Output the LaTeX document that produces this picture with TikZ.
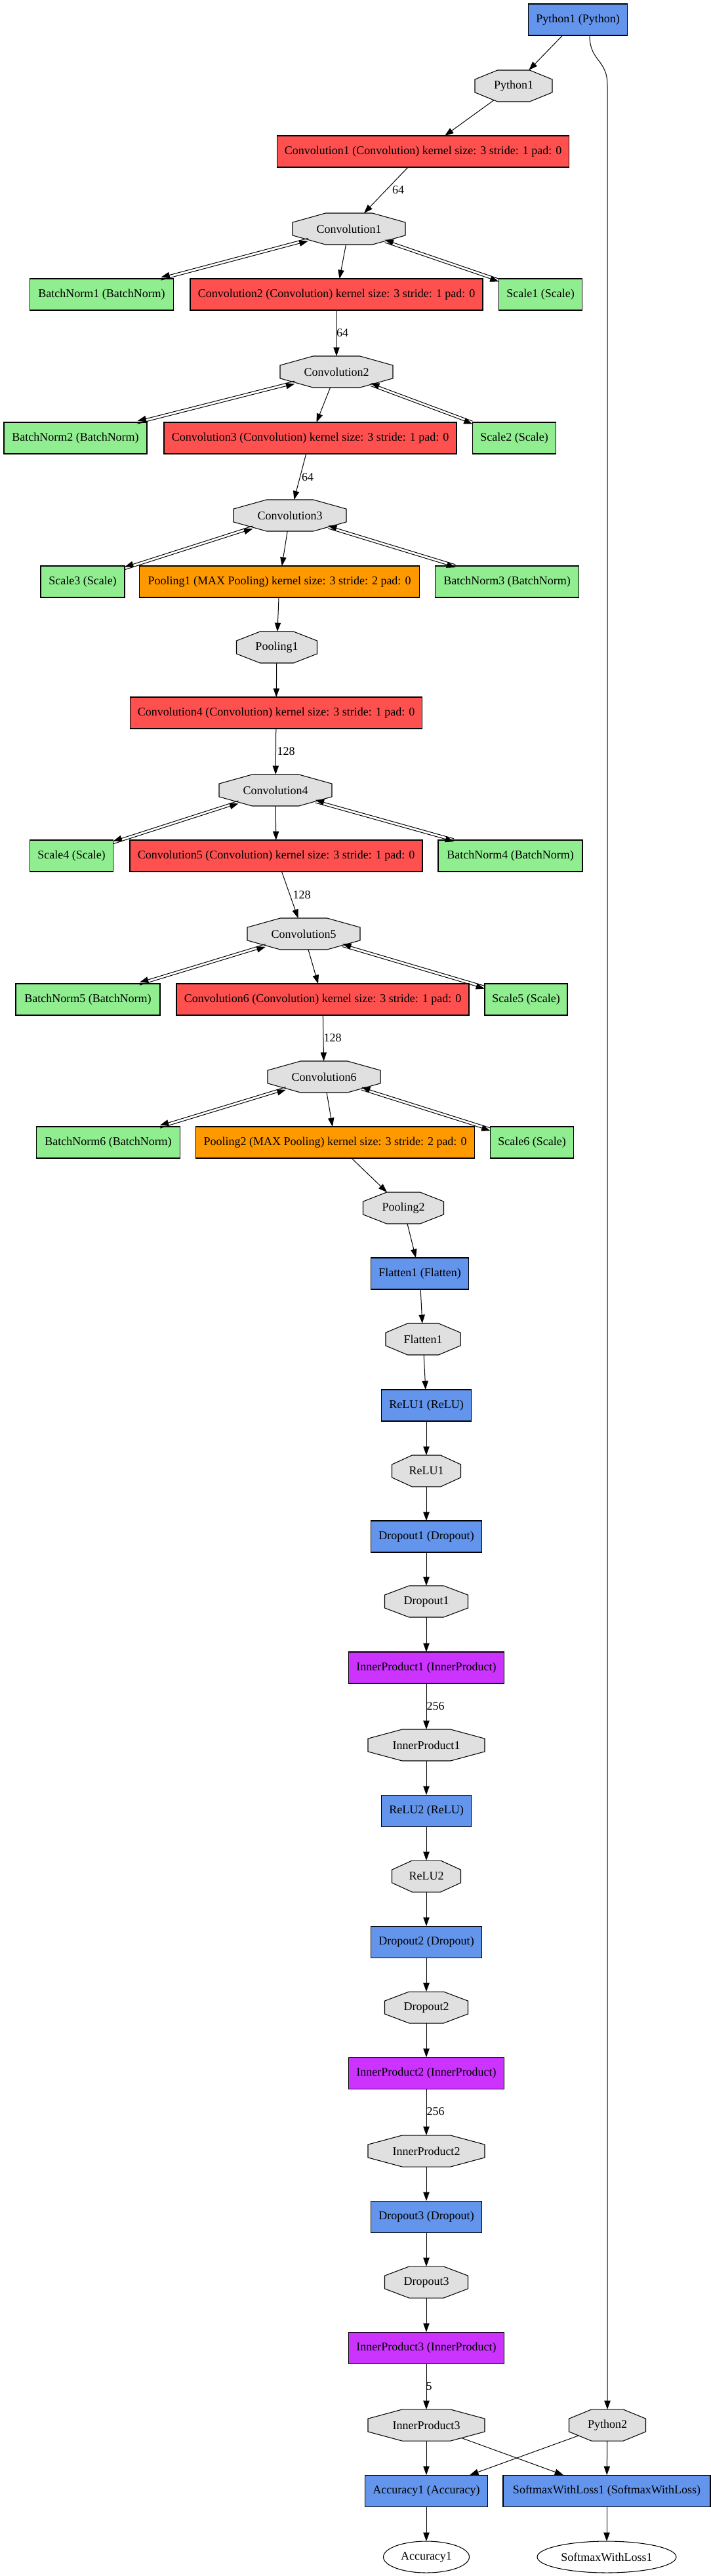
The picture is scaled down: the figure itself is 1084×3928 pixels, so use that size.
\documentclass[tikz,border=0pt]{standalone}
\usepackage{fontspec}
\setmainfont{Liberation Serif}
\usetikzlibrary{arrows.meta,shapes.geometric}
\definecolor{cblue}{HTML}{6495ED}
\definecolor{cred}{HTML}{FF5050}
\definecolor{corange}{HTML}{FF9900}
\definecolor{cpurple}{HTML}{CC33FF}
\definecolor{cgreen}{HTML}{90EE90}
\definecolor{cgrey}{HTML}{E0E0E0}
\newcommand\gvf{\fontsize{13.5pt}{16pt}\selectfont}
\makeatletter
\pgfdeclareshape{gvoctagon}{%
  \inheritsavedanchors[from=rectangle]%
  \inheritanchor[from=rectangle]{center}%
  \inheritanchor[from=rectangle]{north}%
  \inheritanchor[from=rectangle]{south}%
  \inheritanchor[from=rectangle]{east}%
  \inheritanchor[from=rectangle]{west}%
  \inheritanchor[from=rectangle]{text}%
  \inheritanchor[from=rectangle]{base}%
  \inheritanchor[from=rectangle]{mid}%
  \backgroundpath{%
    \southwest \edef\gvswx{\the\pgf@x}\edef\gvswy{\the\pgf@y}%
    \northeast \edef\gvnex{\the\pgf@x}\edef\gvney{\the\pgf@y}%
    \pgfmathsetmacro\gvix{0.2929*(\gvnex-\gvswx)}%
    \pgfmathsetmacro\gviy{0.2929*(\gvney-\gvswy)}%
    \pgfpathmoveto{\pgfpoint{\gvswx+\gvix}{\gvney}}%
    \pgfpathlineto{\pgfpoint{\gvnex-\gvix}{\gvney}}%
    \pgfpathlineto{\pgfpoint{\gvnex}{\gvney-\gviy}}%
    \pgfpathlineto{\pgfpoint{\gvnex}{\gvswy+\gviy}}%
    \pgfpathlineto{\pgfpoint{\gvnex-\gvix}{\gvswy}}%
    \pgfpathlineto{\pgfpoint{\gvswx+\gvix}{\gvswy}}%
    \pgfpathlineto{\pgfpoint{\gvswx}{\gvswy+\gviy}}%
    \pgfpathlineto{\pgfpoint{\gvswx}{\gvney-\gviy}}%
    \pgfpathclose
  }%
  \anchorborder{%
    \edef\gvdx{\the\pgf@x}\edef\gvdy{\the\pgf@y}%
    \southwest \edef\gvswx{\the\pgf@x}\edef\gvswy{\the\pgf@y}%
    \northeast \edef\gvnex{\the\pgf@x}\edef\gvney{\the\pgf@y}%
    \pgfmathsetmacro\gva{(\gvnex-\gvswx)/2}%
    \pgfmathsetmacro\gvb{(\gvney-\gvswy)/2}%
    \pgfmathsetmacro\gvcx{(\gvnex+\gvswx)/2}%
    \pgfmathsetmacro\gvcy{(\gvney+\gvswy)/2}%
    \pgfmathsetmacro\gvix{0.5858*\gva}%
    \pgfmathsetmacro\gviy{0.5858*\gvb}%
    \pgfmathsetmacro\gvs{max(abs(\gvdx),abs(\gvdy),0.001)}%
    \pgfmathsetmacro\gvnx{(\gvdx)/\gvs}%
    \pgfmathsetmacro\gvny{(\gvdy)/\gvs}%
    \pgfmathsetmacro\gvL{veclen(\gvnx,\gvny)}%
    \pgfmathsetmacro\gvux{abs(\gvnx)/\gvL}%
    \pgfmathsetmacro\gvuy{abs(\gvny)/\gvL}%
    \pgfmathsetmacro\gvta{min(\gvb/max(\gvuy,0.01),\gva/max(\gvux,0.01))}%
    \pgfmathsetmacro\gvtb{(\gviy*(\gva-\gvix)+\gvix*\gvb)/(\gviy*\gvux+\gvix*\gvuy)}%
    \pgfmathsetmacro\gvt{min(\gvta,\gvtb)}%
    \pgfmathsetlength\pgf@x{\gvcx+\gvt*(\gvnx)/\gvL}%
    \pgfmathsetlength\pgf@y{\gvcy+\gvt*(\gvny)/\gvL}%
  }%
}
\makeatother
\tikzset{
  wd/.style={minimum width=#1*0.75pt},
  layer/.style={rectangle, draw=black, line width=0.8pt, minimum height=36pt, inner sep=0pt, outer sep=0pt, font=\gvf},
  blob/.style={gvoctagon, draw=black, fill=cgrey, line width=0.8pt, minimum height=36pt, inner sep=0pt, outer sep=0pt, font=\gvf},
  outp/.style={ellipse, draw=black, fill=white, line width=0.8pt, minimum height=36pt, inner sep=0pt, outer sep=0pt, font=\gvf},
  edge/.style={-{Triangle[length=10pt,width=7pt]}, line width=0.75pt, black},
  offu/.style={transform canvas={yshift=1.6pt}},
  offd/.style={transform canvas={yshift=-1.6pt}},
  lbl/.style={font=\gvf, inner sep=0pt}
}
\begin{document}
\begin{tikzpicture}[x=0.75pt, y=-0.75pt]
\useasboundingbox[fill=white] (0,0) rectangle (1084,3928);

\node[layer, fill=cblue, wd=151] (pybox) at (881,30) {Python1 (Python)};
\node[blob, wd=118] (py1o) at (783,131) {Python1};
\node[layer, fill=cred, wd=445] (c1b) at (645,231) {Convolution1 (Convolution) kernel size: 3 stride: 1 pad: 0};
\node[blob, wd=172] (c1o) at (532,349) {Convolution1};
\node[layer, fill=cgreen, wd=219] (bn1) at (155,449) {BatchNorm1 (BatchNorm)};
\node[layer, fill=cred, wd=446] (c2b) at (513,449) {Convolution2 (Convolution) kernel size: 3 stride: 1 pad: 0};
\node[layer, fill=cgreen, wd=127] (sc1) at (824,449) {Scale1 (Scale)};
\node[blob, wd=172] (c2o) at (513,567) {Convolution2};
\node[layer, fill=cgreen, wd=218] (bn2) at (115,668) {BatchNorm2 (BatchNorm)};
\node[layer, fill=cred, wd=446] (c3b) at (473,668) {Convolution3 (Convolution) kernel size: 3 stride: 1 pad: 0};
\node[layer, fill=cgreen, wd=127] (sc2) at (784,668) {Scale2 (Scale)};
\node[blob, wd=172] (c3o) at (442,786) {Convolution3};
\node[layer, fill=cgreen, wd=128] (sc3) at (126,887) {Scale3 (Scale)};
\node[layer, fill=corange, wd=427] (p1b) at (426,887) {Pooling1 (MAX Pooling) kernel size: 3 stride: 2 pad: 0};
\node[layer, fill=cgreen, wd=219] (bn3) at (773,887) {BatchNorm3 (BatchNorm)};
\node[blob, wd=123] (p1o) at (422,987) {Pooling1};
\node[layer, fill=cred, wd=445] (c4b) at (421,1087) {Convolution4 (Convolution) kernel size: 3 stride: 1 pad: 0};
\node[blob, wd=172] (c4o) at (420,1205) {Convolution4};
\node[layer, fill=cgreen, wd=127] (sc4) at (109,1305) {Scale4 (Scale)};
\node[layer, fill=cred, wd=446] (c5b) at (421,1305) {Convolution5 (Convolution) kernel size: 3 stride: 1 pad: 0};
\node[layer, fill=cgreen, wd=220] (bn4) at (778,1305) {BatchNorm4 (BatchNorm)};
\node[blob, wd=172] (c5o) at (463,1424) {Convolution5};
\node[layer, fill=cgreen, wd=220] (bn5) at (134,1524) {BatchNorm5 (BatchNorm)};
\node[layer, fill=cred, wd=446] (c6b) at (492,1524) {Convolution6 (Convolution) kernel size: 3 stride: 1 pad: 0};
\node[layer, fill=cgreen, wd=126] (sc5) at (802,1524) {Scale5 (Scale)};
\node[blob, wd=172] (c6o) at (494,1642) {Convolution6};
\node[layer, fill=cgreen, wd=219] (bn6) at (165,1742) {BatchNorm6 (BatchNorm)};
\node[layer, fill=corange, wd=425] (p2b) at (511,1742) {Pooling2 (MAX Pooling) kernel size: 3 stride: 2 pad: 0};
\node[layer, fill=cgreen, wd=127] (sc6) at (811,1742) {Scale6 (Scale)};
\node[blob, wd=123] (p2o) at (615,1842) {Pooling2};
\node[layer, fill=cblue, wd=149] (fb) at (640,1942) {Flatten1 (Flatten)};
\node[blob, wd=114] (fo) at (645,2042) {Flatten1};
\node[layer, fill=cblue, wd=137] (r1b) at (650,2143) {ReLU1 (ReLU)};
\node[blob, wd=105] (r1o) at (650,2243) {ReLU1};
\node[layer, fill=cblue, wd=169] (d1b) at (650,2343) {Dropout1 (Dropout)};
\node[blob, wd=127] (d1o) at (650,2442) {Dropout1};
\node[layer, fill=cpurple, wd=237] (i1b) at (650,2543) {InnerProduct1 (InnerProduct)};
\node[blob, wd=178] (i1o) at (650,2661) {InnerProduct1};
\node[layer, fill=cblue, wd=137] (r2b) at (650,2761) {ReLU2 (ReLU)};
\node[blob, wd=105] (r2o) at (650,2861) {ReLU2};
\node[layer, fill=cblue, wd=169] (d2b) at (650,2961) {Dropout2 (Dropout)};
\node[blob, wd=127] (d2o) at (650,3061) {Dropout2};
\node[layer, fill=cpurple, wd=237] (i2b) at (650,3161) {InnerProduct2 (InnerProduct)};
\node[blob, wd=178] (i2o) at (650,3280) {InnerProduct2};
\node[layer, fill=cblue, wd=169] (d3b) at (650,3380) {Dropout3 (Dropout)};
\node[blob, wd=127] (d3o) at (650,3480) {Dropout3};
\node[layer, fill=cpurple, wd=237] (i3b) at (650,3580) {InnerProduct3 (InnerProduct)};
\node[blob, wd=178] (i3o) at (650,3698) {InnerProduct3};
\node[blob, wd=117] (py2o) at (926,3698) {Python2};
\node[layer, fill=cblue, wd=187] (accb) at (650,3798) {Accuracy1 (Accuracy)};
\node[layer, fill=cblue, wd=316] (smb) at (925,3798) {SoftmaxWithLoss1 (SoftmaxWithLoss)};
\node[outp, wd=131] (acco) at (650,3899) {Accuracy1};
\node[outp, wd=212] (smo) at (925,3899) {SoftmaxWithLoss1};

\foreach \a/\b in {pybox/py1o, py1o/c1b, c1b/c1o, c1o/c2b, c2b/c2o, c2o/c3b,
  c3b/c3o, c3o/p1b, p1b/p1o, p1o/c4b, c4b/c4o, c4o/c5b, c5b/c5o, c5o/c6b,
  c6b/c6o, c6o/p2b, p2b/p2o, p2o/fb, fb/fo, fo/r1b, r1b/r1o, r1o/d1b, d1b/d1o,
  d1o/i1b, i1b/i1o, i1o/r2b, r2b/r2o, r2o/d2b, d2b/d2o, d2o/i2b, i2b/i2o,
  i2o/d3b, d3b/d3o, d3o/i3b, i3b/i3o, i3o/accb, i3o/smb, py2o/accb, py2o/smb,
  accb/acco, smb/smo}
  \draw[edge] (\a) -- (\b);

\foreach \o/\l/\r in {c1o/bn1/sc1, c2o/bn2/sc2, c3o/sc3/bn3, c4o/sc4/bn4, c5o/bn5/sc5, c6o/bn6/sc6} {
  \draw[edge, offu] (\o) -- (\l);
  \draw[edge, offd] (\l) -- (\o);
  \draw[edge, offd] (\o) -- (\r);
  \draw[edge, offu] (\r) -- (\o);
}

\coordinate (bendpt) at (926,130);
\draw[edge] ([xshift=13.5pt]pybox.south) .. controls +(0,40) and +(0,-40) .. (bendpt) -- (py2o);

\node[lbl] (l1) at (607,290) {64};
\node[lbl] (l2) at (522,508) {64};
\node[lbl] (l3) at (469,728) {64};
\node[lbl] (l4) at (436,1146) {128};
\node[lbl] (l5) at (460,1365) {128};
\node[lbl] (l6) at (507,1583) {128};
\node[lbl] (l7) at (664,2602) {256};
\node[lbl] (l8) at (664,3220) {256};
\node[lbl] (l9) at (654,3639) {5};
\end{tikzpicture}
\end{document}
